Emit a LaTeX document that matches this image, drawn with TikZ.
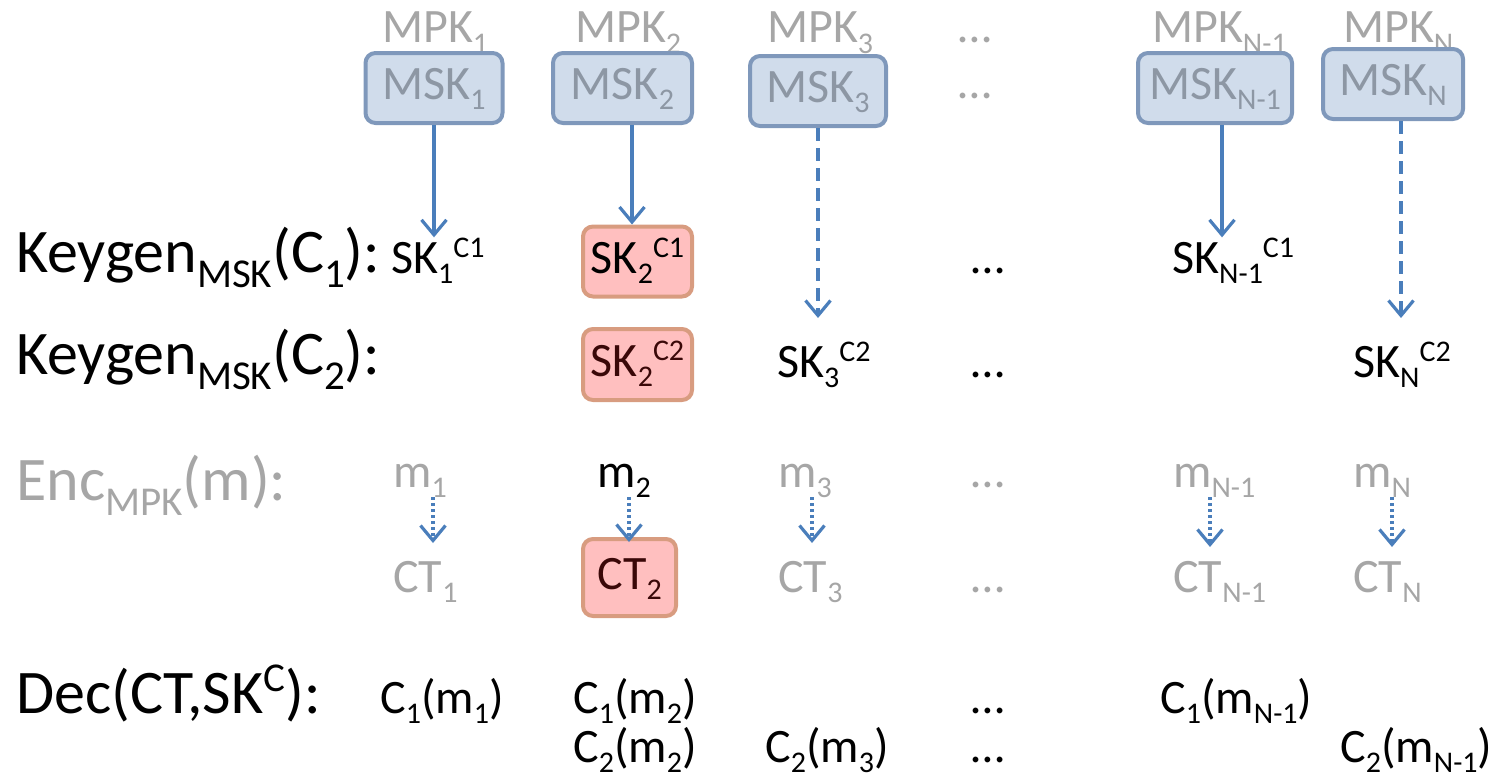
\documentclass[tikz,border=0pt]{standalone}
\usepackage{fontspec}
\setmainfont{Carlito}
\usetikzlibrary{arrows.meta}

\definecolor{keyblue}{HTML}{D0DCEB}
\definecolor{keyedge}{HTML}{7F98BB}
\definecolor{mskgray}{HTML}{8D97A4}
\definecolor{lightgray}{HTML}{A6A6A6}
\definecolor{hitfill}{HTML}{FFBFBF}
\definecolor{hitedge}{HTML}{D89C80}
\definecolor{hittext}{HTML}{3A0808}
\definecolor{arrowblue}{HTML}{4A7EBB}

% lowered / raised index: drop or rise (pt), size (pt), text
\newcommand\sbs[3]{\raisebox{-#1pt}{\fontsize{#2}{#2}\selectfont #3}}
\newcommand\sps[3]{\raisebox{#1pt}{\fontsize{#2}{#2}\selectfont #3}}
\newcommand\lo[1]{\sbs{10}{30}{#1}}
\newcommand\up[1]{\sps{16}{30}{#1}}
\newcommand\blo[1]{\sbs{15}{41}{#1}}
\newcommand\bigfont{\fontsize{62}{70}\selectfont}
\newcommand\smallfont{\fontsize{48}{56}\selectfont}

\tikzset{
  lbl/.style={anchor=base west, inner sep=0pt, font=\bigfont},
  txt/.style={anchor=base west, inner sep=0pt, font=\smallfont},
  mskbox/.style={draw=keyedge, fill=keyblue, line width=4pt, rounded corners=10pt,
    inner sep=0pt, minimum height=70pt, text height=33pt, text depth=10pt,
    text=mskgray, font=\smallfont},
  hitbox/.style={draw=hitedge, fill=hitfill, line width=4pt, rounded corners=10pt,
    inner sep=0pt, text height=33pt, text depth=10pt, font=\smallfont},
  keyarrow/.style={draw=arrowblue, line width=3.2pt,
    -{Straight Barb[length=15pt,width=25pt]}},
  dasharrow/.style={keyarrow, dash pattern=on 13pt off 7pt},
  dotarrow/.style={keyarrow, dash pattern=on 3pt off 3pt},
}

\begin{document}
\begin{tikzpicture}[x=1pt,y=-1pt]
\useasboundingbox (0,0) rectangle (1497,780);

% public keys above the master secret keys
\node[txt, text=lightgray] (mpk1) at (382,42) {MPK\sbs{11}{30}{1}};
\node[txt, text=lightgray] (mpk2) at (575,42) {MPK\sbs{11}{30}{2}};
\node[txt, text=lightgray] (mpk3) at (767,42) {MPK\sbs{11}{30}{3}};
\node[txt, text=lightgray] (mpkd) at (958,42) {…};
\node[txt, text=lightgray] (mpkn1) at (1152,42) {MPK\sbs{11}{30}{N-1}};
\node[txt, text=lightgray] (mpkn) at (1343,42) {MPK\sbs{11}{30}{N}};

% master secret keys
\node[mskbox, minimum width=137pt] (msk1) at (434,88) {MSK\lo{1}};
\node[mskbox, minimum width=139pt] (msk2) at (622.5,88) {MSK\lo{2}};
\node[mskbox, minimum width=136pt] (msk3) at (818,91) {MSK\lo{3}};
\node[txt, text=lightgray] (mskd) at (958,98) {…};
\node[mskbox, minimum width=154pt] (mskn1) at (1215,88) {MSK\lo{N-1}};
\node[mskbox, minimum width=140pt] (mskn) at (1393,84) {MSK\lo{N}};

% key generation for C1
\node[lbl] (kg1) at (16,272) {Keygen\blo{MSK}(C\blo{1}):};
\node[txt] (sk11) at (391,273) {SK\lo{1}\up{C1}};
\node[hitbox, minimum width=109pt, minimum height=70pt] (sk21) at (637.5,261.5) {SK\lo{2}\up{C1}};
\node[txt] (kd1) at (971,273) {…};
\node[txt] (skn11) at (1172,273) {SK\lo{N-1}\up{C1}};

% key generation for C2
\node[lbl] (kg2) at (16,374) {Keygen\blo{MSK}(C\blo{2}):};
\node[hitbox, minimum width=109pt, minimum height=71pt, text=hittext] (sk22) at (637.5,364.5) {SK\lo{2}\up{C2}};
\node[txt] (sk32) at (777,377) {SK\lo{3}\up{C2}};
\node[txt] (kd2) at (971,377) {…};
\node[txt] (skn2) at (1353,377) {SK\lo{N}\up{C2}};

% encryption
\node[lbl, text=lightgray] (enc) at (16,500) {Enc\blo{MPK}(m):};
\node[txt, text=lightgray] (m1) at (393,487) {m\lo{1}};
\node[txt] (m2) at (597,487) {m\lo{2}};
\node[txt, text=lightgray] (m3) at (778,487) {m\lo{3}};
\node[txt, text=lightgray] (md) at (971,487) {…};
\node[txt, text=lightgray] (mn1) at (1173,487) {m\lo{N-1}};
\node[txt, text=lightgray] (mn) at (1353,487) {m\lo{N}};

\node[txt, text=lightgray] (ct1) at (393,592) {CT\lo{1}};
\node[hitbox, minimum width=93pt, minimum height=77pt, text=hittext] (ct2) at (629.5,577.5) {CT\lo{2}};
\node[txt, text=lightgray] (ct3) at (778,592) {CT\lo{3}};
\node[txt, text=lightgray] (ctd) at (971,592) {…};
\node[txt, text=lightgray] (ctn1) at (1173,592) {CT\lo{N-1}};
\node[txt, text=lightgray] (ctn) at (1353,592) {CT\lo{N}};

% decryption
\node[lbl] (dec) at (16,713) {Dec(CT,SK\sps{22}{41}{C}):};
\node[txt] (d11) at (380,713) {C\lo{1}(m\lo{1})};
\node[txt] (d12) at (573,713) {C\lo{1}(m\lo{2})};
\node[txt] (d1d) at (971,713) {…};
\node[txt] (d1n) at (1160,713) {C\lo{1}(m\lo{N-1})};
\node[txt] (d22) at (573,762) {C\lo{2}(m\lo{2})};
\node[txt] (d23) at (765,762) {C\lo{2}(m\lo{3})};
\node[txt] (d2d) at (971,762) {…};
\node[txt] (d2n) at (1340,762) {C\lo{2}(m\lo{N-1})};

% key derivation arrows
\coordinate (e3) at (818,318);
\coordinate (en) at (1401,318);
\draw[keyarrow] (msk1.south) -- (msk1.south |- sk11.north);
\draw[keyarrow] ([xshift=9.5pt]msk2.south) -- ([xshift=9.5pt]msk2.south |- sk21.north);
\draw[dasharrow] (msk3.south) -- (e3);
\draw[keyarrow] ([xshift=7pt]mskn1.south) -- ([xshift=7pt]mskn1.south |- skn11.north);
\draw[dasharrow] (mskn.south -| en) -- (en);

% encryption arrows
\coordinate (t1) at (433,543);
\coordinate (t2) at (629,542);
\coordinate (t3) at (812,543);
\coordinate (t4) at (1210,547);
\coordinate (t5) at (1392,547);
\draw[dotarrow] (m1.south -| t1) -- (t1);
\draw[dotarrow] (m2.south -| t2) -- (t2);
\draw[dotarrow] (m3.south -| t3) -- (t3);
\draw[dotarrow] (mn1.south -| t4) -- (t4);
\draw[dotarrow] (mn.south -| t5) -- (t5);
\end{tikzpicture}
\end{document}
